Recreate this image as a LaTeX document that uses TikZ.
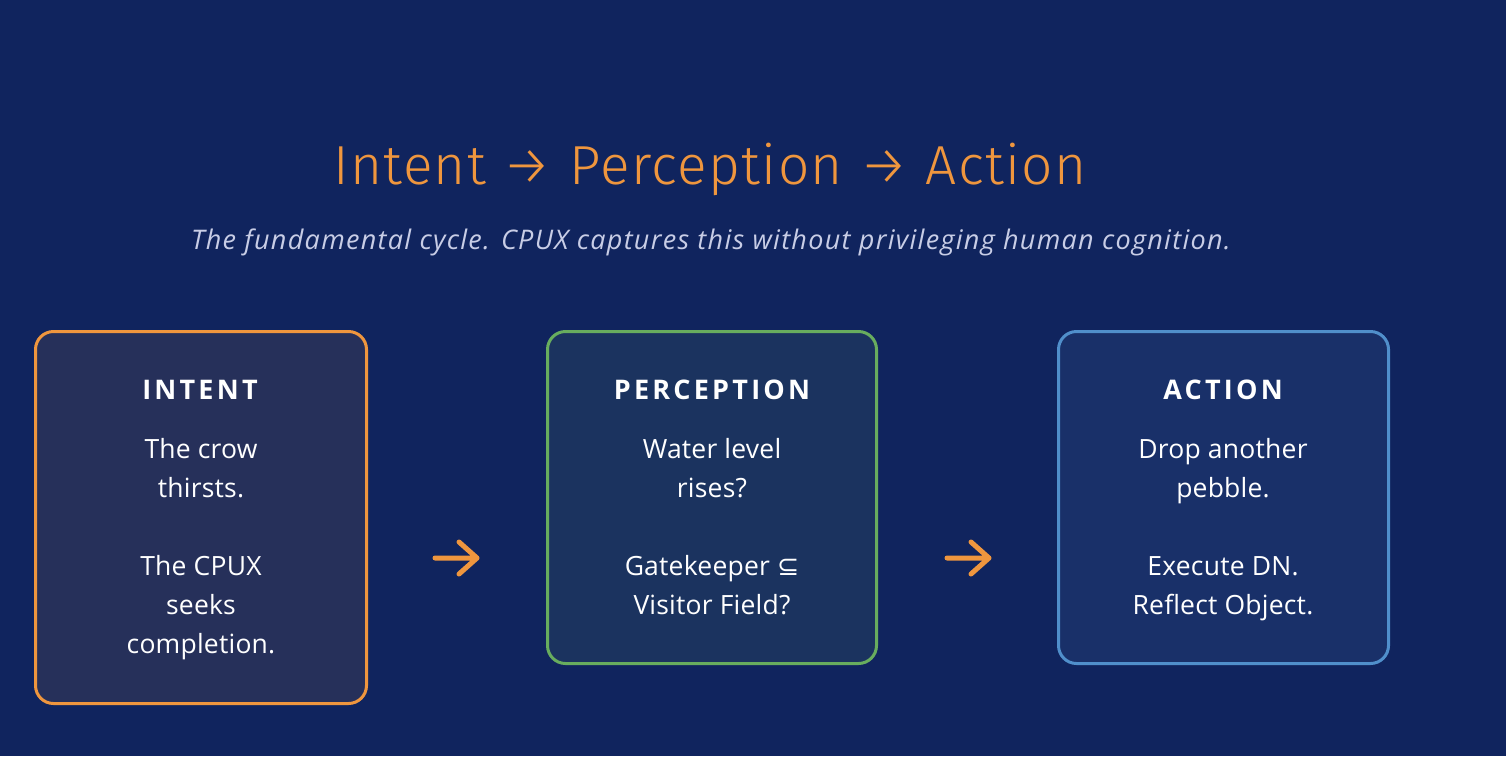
\documentclass[tikz,border=0pt]{standalone}
\usepackage{fontspec}
\setmainfont{Open Sans}
\newfontfamily\titlefont{Fira Sans Light}[LetterSpace=2.5]
\newfontfamily\headfont{Open Sans}[LetterSpace=12]
\newfontfamily\subfont{Open Sans}[LetterSpace=4.8]
\newfontfamily\bodyfont{Open Sans}[LetterSpace=0.8]
\newfontfamily\symfont{DejaVu Sans}
\definecolor{bg}{RGB}{16,36,94}
\definecolor{orng}{RGB}{239,150,62}
\definecolor{grn}{RGB}{104,173,94}
\definecolor{blu}{RGB}{80,143,203}
\definecolor{fillI}{RGB}{38,48,90}
\definecolor{fillP}{RGB}{27,51,95}
\definecolor{fillA}{RGB}{25,48,105}
\definecolor{subc}{RGB}{200,205,230}
\tikzset{
  box/.style={rectangle, rounded corners=18pt, line width=3pt, inner sep=0pt},
  head/.style={anchor=base, text=white, font=\headfont\bfseries\fontsize{27}{30}\selectfont},
  body/.style={anchor=base, text=white, font=\bodyfont\fontsize{26.5}{39}\selectfont},
  arrowline/.style={draw=orng, line width=5pt, line cap=round, line join=round}
}
\begin{document}
\begin{tikzpicture}[x=1pt,y=-1pt]
\fill[bg] (0,0) rectangle (1506,756);
\useasboundingbox (0,0) rectangle (1506,756);
% title
\node[anchor=base, text=orng, font=\titlefont\fontsize{55}{60}\selectfont] (title) at (710,184) {Intent → Perception → Action};
\node[anchor=base, text=subc, font=\subfont\itshape\fontsize{27}{30}\selectfont] (sub) at (711,249) {The fundamental cycle. CPUX captures this without privileging human cognition.};
% boxes
\node[box, draw=orng, fill=fillI, minimum width=331pt, minimum height=372pt] (intent) at (201,517.5) {};
\node[box, draw=grn, fill=fillP, minimum width=329pt, minimum height=332pt] (perc) at (712,497.5) {};
\node[box, draw=blu, fill=fillA, minimum width=330pt, minimum height=332pt] (act) at (1223.5,497.5) {};
% intent text
\node[head] (ih) at (200,399) {INTENT};
\node[body] (i1) at (201,458) {The crow};
\node[body] (i2) at (201,497) {thirsts.};
\node[body] (i3) at (201,575) {The CPUX};
\node[body] (i4) at (201,614) {seeks};
\node[body] (i5) at (201,653) {completion.};
% perception text
\node[head] (ph) at (712,399) {PERCEPTION};
\node[body] (p1) at (712,458) {Water level};
\node[body] (p2) at (712,497) {rises?};
\node[body] (p3) at (712,575) {Gatekeeper {\symfont ⊆}};
\node[body] (p4) at (712,614) {Visitor Field?};
% action text
\node[head] (ah) at (1223,399) {ACTION};
\node[body] (a1) at (1223,458) {Drop another};
\node[body] (a2) at (1223,497) {pebble.};
\node[body] (a3) at (1223,575) {Execute DN.};
\node[body] (a4) at (1223,614) {Reflect Object.};
% arrows
\coordinate (ar1s) at (435,558);
\coordinate (ar1e) at (477,558);
\coordinate (ar2s) at (947,558);
\coordinate (ar2e) at (989,558);
\draw[arrowline] (ar1s) -- (ar1e) (ar1e) -- ++(-18,-16) (ar1e) -- ++(-18,16);
\draw[arrowline] (ar2s) -- (ar2e) (ar2e) -- ++(-18,-16) (ar2e) -- ++(-18,16);
\end{tikzpicture}
\end{document}
